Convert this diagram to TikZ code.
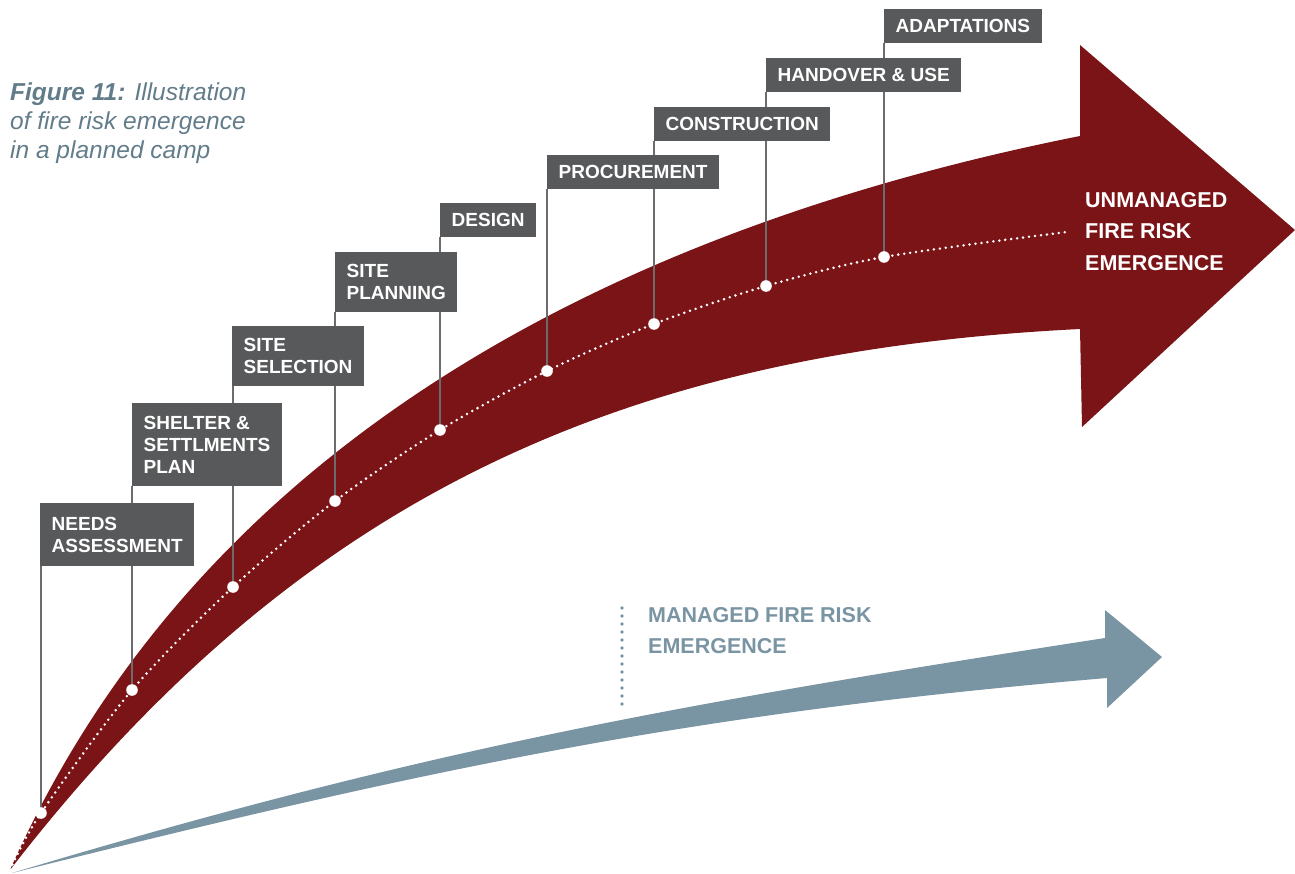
\documentclass[tikz,border=0pt]{standalone}
\usepackage{fontspec}
\setmainfont{Liberation Sans}
\usepackage{tikz}
\definecolor{riskred}{RGB}{123, 20, 23}
\definecolor{managedblue}{RGB}{121, 148, 162}
\definecolor{captionblue}{RGB}{98, 124, 138}
\definecolor{stagegrey}{RGB}{88, 89, 91}
\definecolor{leadgrey}{RGB}{108, 108, 110}

\pgfdeclarelayer{arrows}
\pgfdeclarelayer{leads}
\pgfsetlayers{arrows,leads,main}

\tikzset{
  stage/.style={fill=stagegrey, text=white, anchor=north west, align=left,
    inner xsep=11.5pt, inner ysep=0pt, minimum height=34pt,
    font=\fontsize{19}{22}\selectfont\bfseries},
  lead/.style={leadgrey, line width=1.4pt},
  bigtext/.style={anchor=north west, inner sep=0pt, align=left,
    font=\fontsize{21.5}{31.5}\selectfont\bfseries}
}

\begin{document}
\begin{tikzpicture}[x=1pt, y=-1pt]
  \useasboundingbox (0,0) rectangle (1295,874);

  % points on the red curve, one per stage
  \foreach \n/\x/\y in {needs/41/813, shelter/132/690, selection/233/587,
      planning/335/501, design/440/430, procurement/547/371,
      construction/654/324, handover/766/286, adaptations/884/257}
    \coordinate (\n-pt) at (\x,\y);

  % stage boxes
  \node[stage, minimum height=63pt] (needs) at (40,503) {NEEDS\\ASSESSMENT};
  \node[stage, minimum height=83pt] (shelter) at (132,403) {SHELTER \&\\SETTLMENTS\\PLAN};
  \node[stage, minimum height=60pt] (selection) at (232,326) {SITE\\SELECTION};
  \node[stage, minimum height=60pt] (planning) at (335,252) {SITE\\PLANNING};
  \node[stage] (design) at (440,203) {DESIGN};
  \node[stage] (procurement) at (547,155) {PROCUREMENT};
  \node[stage] (construction) at (654,107) {CONSTRUCTION};
  \node[stage] (handover) at (766,58) {HANDOVER \& USE};
  \node[stage] (adaptations) at (884,9) {ADAPTATIONS};

  \begin{pgfonlayer}{arrows}
    % unmanaged: wide red arrow
    \fill[riskred] (10,870) .. controls (192,459) and (589,234) .. (1080,136)
      -- (1080,45) -- (1295,230) -- (1082,427) -- (1080,329)
      .. controls (630,351.5) and (302.8,490.8) .. (10,870) -- cycle;
    % managed: thin blue arrow
    \fill[managedblue] (12,873) .. controls (432,747) and (685,703) .. (1105,638)
      -- (1105,610) -- (1162,657) -- (1107,708) -- (1107,678)
      .. controls (687,713.7) and (432,768) .. (12,873) -- cycle;
    \draw[white, line width=2.8pt, line cap=round, dash pattern=on 0pt off 6pt]
      plot[smooth] coordinates {(10,870) (41,813) (132,690) (233,587) (335,501)
        (440,430) (547,371) (654,324) (766,286) (884,257) (1067,232)};
  \end{pgfonlayer}

  \begin{pgfonlayer}{leads}
    \foreach \n in {needs, shelter, selection, planning, design,
        procurement, construction, handover, adaptations} {
      \draw[lead] (\n-pt) -- (\n-pt |- \n.south);
      \fill[white] (\n-pt) circle (5.8pt);
    }
  \end{pgfonlayer}

  % labels
  \node[anchor=north west, inner sep=0pt, align=left, text=captionblue,
    font=\fontsize{24.5}{29}\selectfont\itshape] (caption) at (10,83)
    {\textbf{Figure 11:} Illustration\\of fire risk emergence\\in a planned camp};
  \node[bigtext, text=white] (unmanaged) at (1085,192) {UNMANAGED\\FIRE RISK\\EMERGENCE};
  \node[bigtext, text=managedblue] (managed) at (648,607) {MANAGED FIRE RISK\\EMERGENCE};

  \coordinate (managed-top) at (622,608);
  \coordinate (managed-foot) at (622,709);
  \draw[managedblue, line width=3.6pt, line cap=round, dash pattern=on 0pt off 8pt]
    (managed-top) -- (managed-foot);
\end{tikzpicture}
\end{document}
